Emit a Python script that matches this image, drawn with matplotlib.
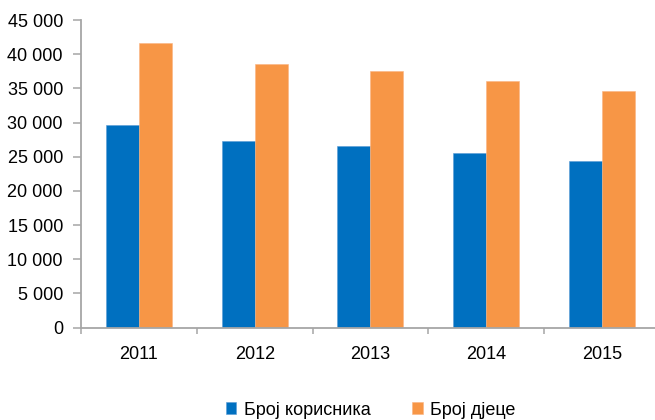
import matplotlib
matplotlib.use("Agg")
import matplotlib.pyplot as plt
from matplotlib.ticker import FuncFormatter, FixedLocator
from matplotlib import font_manager
import numpy as np

years = ["2011", "2012", "2013", "2014", "2015"]
korisnici = [29650, 27270, 26580, 25510, 24340]
djeca = [41660, 38590, 37520, 36140, 34630]
series_names = ["Број корисника", "Број дјеце"]

available = {f.name for f in font_manager.fontManager.ttflist}
fam = "Liberation Sans Narrow" if "Liberation Sans Narrow" in available else "Liberation Sans"
plt.rcParams["font.family"] = [fam, "DejaVu Sans"]
FS = 15 if fam.endswith("Narrow") else 13

BLUE = "#0070C0"
ORANGE = "#F79646"
AXIS = "#A6A6A6"

fig = plt.figure(figsize=(6.55, 4.20), dpi=100)
ax = fig.add_axes([81 / 655, 92.5 / 420, 579 / 655, 307.3 / 420])

x = np.arange(len(years))
w = 33 / 115.8
ax.bar(x - w / 2, korisnici, width=w, color=BLUE, edgecolor="#5B9BD5", linewidth=0.4, label=series_names[0])
ax.bar(x + w / 2, djeca, width=w, color=ORANGE, edgecolor="#FAB482", linewidth=0.4, label=series_names[1])

ax.set_xlim(-0.5, len(years) - 0.5)
ax.set_ylim(0, 45000)
ax.set_yticks(np.arange(0, 45001, 5000))
ax.yaxis.set_major_formatter(FuncFormatter(lambda v, p: f"{v:,.0f}".replace(",", " ")))

# category labels at centres, tick marks at category boundaries
ax.xaxis.set_major_locator(FixedLocator(np.arange(-0.5, len(years), 1.0)))
ax.xaxis.set_major_formatter(FuncFormatter(lambda v, p: ""))
ax.xaxis.set_minor_locator(FixedLocator(x))
ax.set_xticklabels(years, minor=True)
ax.tick_params(axis="x", which="minor", length=0, pad=13, labelsize=FS)
ax.tick_params(axis="x", which="major", length=4.5, width=1.1, color=AXIS, direction="out")
ax.tick_params(axis="y", length=6, width=1.1, color=AXIS, pad=7, labelsize=FS, direction="out")

for s in ["top", "right"]:
    ax.spines[s].set_visible(False)
for s in ["left", "bottom"]:
    ax.spines[s].set_color(AXIS)
    ax.spines[s].set_linewidth(1.3)

leg = ax.legend(loc="center", bbox_to_anchor=(0.5, -0.2685), ncol=2, frameon=False,
                fontsize=FS, handlelength=0.6, handleheight=0.6, handletextpad=0.4,
                columnspacing=2.3)

fig.savefig("out.png", dpi=100)
